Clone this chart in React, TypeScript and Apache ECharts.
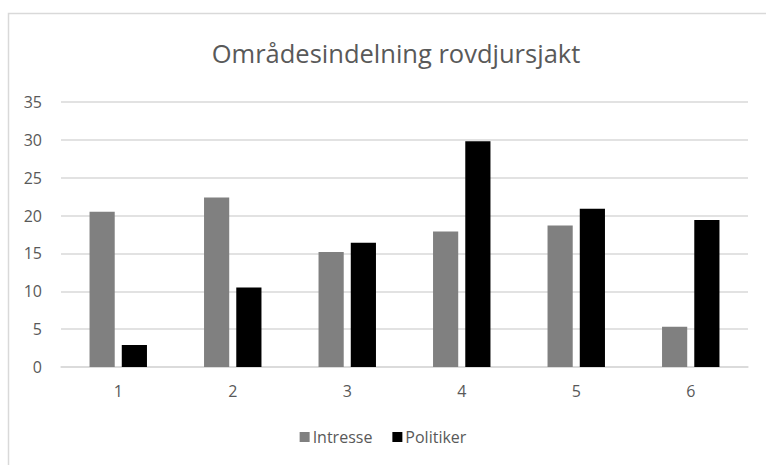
import React, { useEffect, useRef } from "react";
import * as echarts from "echarts";

const categories = ["1", "2", "3", "4", "5", "6"];
const intresse = [20.5, 22.4, 15.2, 17.9, 18.7, 5.3];
const politiker = [2.9, 10.5, 16.4, 29.8, 20.9, 19.4];
const seriesNames = ["Intresse", "Politiker"];
const titleText = "Områdesindelning rovdjursjakt";

export default function App() {
  const ref = useRef<HTMLDivElement>(null);
  useEffect(() => {
    if (!ref.current) return;
    const chart = echarts.init(ref.current, null, { renderer: "svg" });
    const font = "'Open Sans', sans-serif";
    chart.setOption({
      animation: false,
      backgroundColor: "#ffffff",
      textStyle: { fontFamily: font },
      graphic: [
        {
          type: "rect",
          silent: true,
          shape: { x: 8.5, y: 13.5, width: 800, height: 500 },
          style: { fill: "none", stroke: "#d9d9d9", lineWidth: 1.5 },
        },
      ],
      title: {
        text: titleText,
        left: 391,
        textAlign: "center",
        top: 35,
        textStyle: { fontFamily: font, fontSize: 25.5, fontWeight: "normal", color: "#595959" },
      },
      legend: {
        data: seriesNames,
        bottom: 15,
        left: "center",
        itemWidth: 10,
        itemHeight: 10,
        itemGap: 20,
        icon: "rect",
        textStyle: { fontFamily: font, fontSize: 16, color: "#595959", padding: [0, 0, 0, -2] },
      },
      grid: { left: 61, right: 18, top: 102, bottom: 98, containLabel: false },
      xAxis: {
        type: "category",
        data: categories,
        axisLine: { lineStyle: { color: "#d9d9d9", width: 1.5 } },
        axisTick: { show: false },
        axisLabel: { color: "#595959", fontSize: 16, fontFamily: font, margin: 16 },
      },
      yAxis: {
        type: "value",
        min: 0,
        max: 35,
        interval: 5,
        axisLine: { show: false },
        axisTick: { show: false },
        splitLine: { lineStyle: { color: "#d9d9d9", width: 1.5 } },
        axisLabel: { color: "#595959", fontSize: 16, fontFamily: font, margin: 19 },
      },
      series: [
        {
          name: seriesNames[0],
          type: "bar",
          data: intresse,
          barWidth: "22%",
          barGap: "28%",
          itemStyle: { color: "#808080" },
        },
        {
          name: seriesNames[1],
          type: "bar",
          data: politiker,
          barWidth: "22%",
          barGap: "28%",
          itemStyle: { color: "#000000" },
        },
      ],
    });
    return () => chart.dispose();
  }, []);
  return (
    <div
      ref={ref}
      style={{ position: "fixed", left: 0, top: 0, width: 766, height: 465 }}
    />
  );
}
